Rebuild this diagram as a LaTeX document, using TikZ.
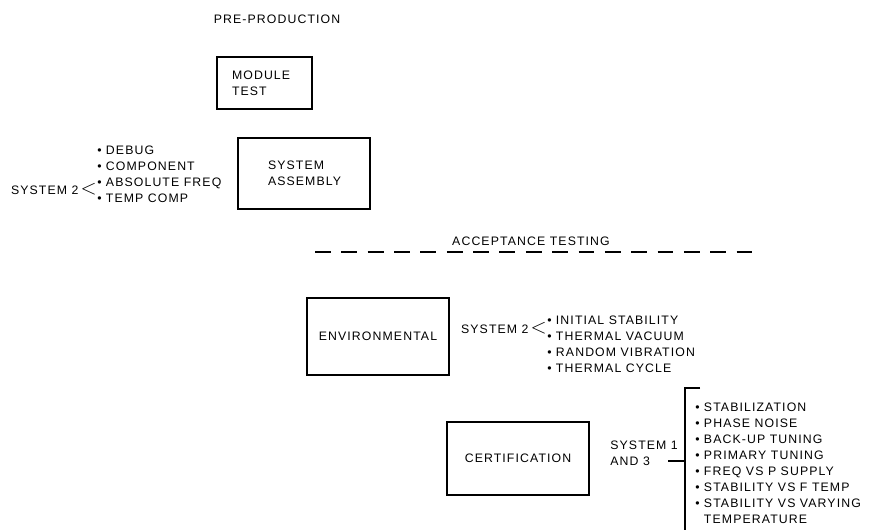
\documentclass[tikz,border=0pt]{standalone}
\usepackage{fontspec}
\setmainfont[LetterSpace=9]{Liberation Sans}
\usepackage{tikz}
\usetikzlibrary{positioning}
\newcommand{\itm}[1]{{\scriptsize\textbullet}\hspace{0.35em}#1}
\tikzset{
  stagebox/.style={draw=black, line width=1.2pt, align=left, inner ysep=0pt,
    font=\fontsize{7}{9.1}\selectfont},
  lab/.style={font=\fontsize{7}{9.1}\selectfont, align=left, inner sep=0pt},
  bracketline/.style={draw=black, line width=0.8pt},
  phaseline/.style={draw=black, line width=0.8pt, dash pattern=on 9pt off 6pt},
}

\begin{document}
\begin{tikzpicture}[x=0.02cm, y=-0.02cm]
  \useasboundingbox (0,0) rectangle (878,530);

  % pre-production
  \node[lab] (preprod) at (277,19) {PRE-PRODUCTION};
  \node[stagebox, text width=1.3cm, inner xsep=0.3cm, minimum height=1.04cm] (module) at (264.5,83)
    {MODULE\\TEST};
  \node[stagebox, text width=1.44cm, inner xsep=0.6cm, minimum height=1.42cm] (assembly) at (304,173.5)
    {SYSTEM\\ASSEMBLY};
  \node[lab, anchor=west] (asmlist) at (97,174)
    {\itm{DEBUG}\\ \itm{COMPONENT}\\ \itm{ABSOLUTE FREQ}\\ \itm{TEMP COMP}};
  \node[lab, anchor=east] (asmsys) at (97,189) {SYSTEM 2\,{\large$<$}};

  % acceptance testing
  \coordinate (phaseL) at (315,252);
  \coordinate (phaseR) at (762,252);
  \draw[phaseline] (phaseL) -- (phaseR);
  \node[lab] (accept) at (531,241) {ACCEPTANCE TESTING};

  \node[stagebox, align=center, minimum width=2.84cm, minimum height=1.54cm] (environ) at (378,336.5)
    {ENVIRONMENTAL};
  \node[lab, anchor=west] (envlist) at (547,344.5)
    {\itm{INITIAL STABILITY}\\ \itm{THERMAL VACUUM}\\ \itm{RANDOM VIBRATION}\\ \itm{THERMAL CYCLE}};
  \node[lab, anchor=east] (envsys) at (547,328) {SYSTEM 2\,{\large$<$}};

  \node[stagebox, align=center, minimum width=2.84cm, minimum height=1.46cm] (certif) at (518,458.5)
    {CERTIFICATION};
  \node[lab, anchor=west] (certsys) at (610,453) {SYSTEM 1\\AND 3};
  \coordinate (brTop) at (685,388);
  \coordinate (brTick) at (700,388);
  \coordinate (brBot) at (685,530);
  \coordinate (brMid) at (685,461);
  \coordinate (sysEnd) at (668,461);
  \draw[bracketline] (brTick) -- (brTop) -- (brBot);
  \draw[bracketline] (sysEnd) -- (brMid);
  \node[lab, anchor=west] (certlist) at (695,463.5)
    {\itm{STABILIZATION}\\ \itm{PHASE NOISE}\\ \itm{BACK-UP TUNING}\\ \itm{PRIMARY TUNING}\\
     \itm{FREQ VS P SUPPLY}\\ \itm{STABILITY VS F TEMP}\\ \itm{STABILITY VS VARYING}\\
     \phantom{\itm{}}TEMPERATURE};
\end{tikzpicture}
\end{document}
